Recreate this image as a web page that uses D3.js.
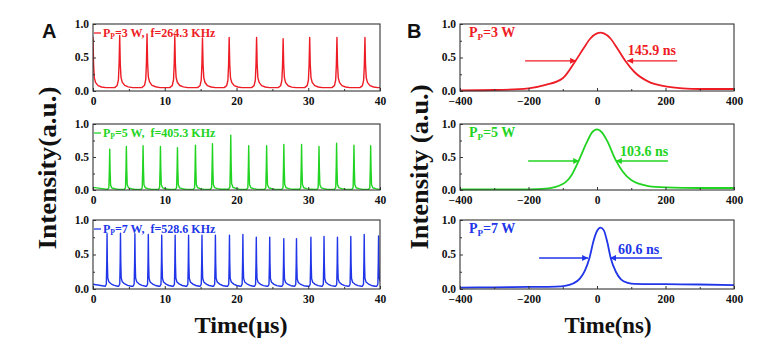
<!DOCTYPE html>
<html><head><meta charset="utf-8">
<script src="https://cdn.jsdelivr.net/npm/d3@7"></script>
<style>
body{margin:0;background:#fff;}
svg{display:block;}
</style></head>
<body>
<svg id="chart" width="773" height="350"></svg>
<script>
// ---------------- DATA ----------------
// Panel A: pulse trains (time in µs)
const redPulseTimes   = [0, 3.72, 7.53, 11.4, 15.26, 18.98, 22.8, 26.5, 30.2, 34.0, 37.9];
const redPulseHeights = [0.80, 0.83, 0.85, 0.82, 0.79, 0.80, 0.80, 0.78, 0.80, 0.80, 0.80];
const greenPulseTimes   = [2.33, 4.65, 6.98, 9.4, 11.77, 14.28, 16.65, 19.2, 21.7, 24.2, 26.6, 29.07, 31.5, 33.95, 36.37, 38.7];
const greenPulseHeights = [0.62, 0.66, 0.67, 0.66, 0.64, 0.68, 0.70, 0.83, 0.67, 0.67, 0.69, 0.69, 0.66, 0.71, 0.68, 0.67];
const bluePulseTimes   = [1.96, 3.83, 5.84, 7.71, 9.58, 11.45, 13.32, 15.19, 17.06, 19.02, 20.89, 22.76, 24.63, 26.59, 28.36, 30.37, 32.2, 34.07, 35.93, 37.8, 39.8];
const bluePulseHeights = [0.80, 0.81, 0.80, 0.79, 0.78, 0.78, 0.78, 0.78, 0.78, 0.78, 0.79, 0.75, 0.75, 0.73, 0.73, 0.75, 0.76, 0.75, 0.76, 0.79, 0.77];
// single-pulse shapes (offset in µs, level relative to pulse peak)
const redProfileOffsets = [-0.7, -0.35, -0.18, -0.08, 0, 0.08, 0.18, 0.35, 0.7, 1.2, 1.8];
const redProfileLevels  = [0.06, 0.1, 0.2, 0.5, 1, 0.5, 0.25, 0.16, 0.1, 0.075, 0.06];
const greenProfileOffsets = [-0.3, -0.12, -0.05, 0, 0.05, 0.12, 0.3, 0.7, 1.2];
const greenProfileLevels  = [0.015, 0.05, 0.5, 1, 0.5, 0.12, 0.05, 0.03, 0.015];
const blueProfileOffsets = [-0.25, -0.1, -0.04, 0, 0.04, 0.1, 0.25, 0.6, 1.0, 1.5];
const blueProfileLevels  = [0.05, 0.09, 0.5, 1, 0.5, 0.2, 0.13, 0.09, 0.065, 0.05];
const trainBaselines = [0.05, 0.01, 0.04];

// Panel B: single pulses (time in ns)
const redPulseT   = [-400, -300, -200, -150, -100, -64, -40, -20, 0, 10, 20, 40, 60, 84, 110, 150, 200, 250, 300, 400];
const redPulseI   = [0.01, 0.015, 0.04, 0.09, 0.19, 0.44, 0.63, 0.78, 0.86, 0.87, 0.86, 0.78, 0.63, 0.44, 0.28, 0.14, 0.07, 0.04, 0.03, 0.03];
const greenPulseT = [-400, -200, -150, -100, -75, -52, -30, -15, 0, 15, 30, 54, 75, 100, 150, 200, 300, 400];
const greenPulseI = [0.01, 0.01, 0.02, 0.09, 0.22, 0.46, 0.72, 0.87, 0.92, 0.87, 0.74, 0.46, 0.28, 0.15, 0.06, 0.04, 0.03, 0.03];
const bluePulseT  = [-400, -300, -200, -120, -90, -70, -50, -35, -22, -10, 0, 10, 20, 30, 40, 55, 70, 90, 110, 200, 300, 400];
const bluePulseI  = [0.02, 0.025, 0.03, 0.035, 0.05, 0.08, 0.15, 0.27, 0.45, 0.7, 0.84, 0.89, 0.85, 0.68, 0.45, 0.25, 0.14, 0.09, 0.075, 0.07, 0.065, 0.055];

// FWHM annotations: [left arrow start, left arrow tip, right arrow start, right arrow tip, level]
const fwhmArrows = [[-210, -61, 234, 88, 0.45], [-201, -52, 207, 55, 0.44], [-169, -26, 190, 38, 0.45]];
const fwhmLabels = ["145.9 ns", "103.6 ns", "60.6 ns"];
const fwhmLabelPos = [[90, 0.54], [67, 0.515], [61, 0.51]];

const powers = ["3 W", "5 W", "7 W"];
const freqs = ["264.3 KHz", "405.3 KHz", "528.6 KHz"];
const xTicksA = [0, 10, 20, 30, 40];
const xTicksB = [-400, -200, 0, 200, 400];
const yTicks = [0.0, 0.5, 1.0];

// ---------------- DRAW ----------------
const SERIF = '"Liberation Serif","Times New Roman",serif';
const SANS = '"Liberation Sans",Arial,sans-serif';
const colors = ["#ee1c25", "#22d422", "#2036e8"];
const svg = d3.select("#chart");
const rows = [[24, 91], [124, 190], [220, 289]];
const xA = d3.scaleLinear().domain([0, 40]).range([93, 380]);
const xB = d3.scaleLinear().domain([-400, 400]).range([460, 734]);

const defs = svg.append("defs");
colors.forEach((c, i) => {
  defs.append("marker").attr("id", "arr" + i).attr("viewBox", "0 0 10 10")
    .attr("refX", 10).attr("refY", 5).attr("markerWidth", 7).attr("markerHeight", 6)
    .attr("markerUnits", "userSpaceOnUse").attr("orient", "auto")
    .append("path").attr("d", "M0,0L10,5L0,10Z").attr("fill", c);
});

function buildTrain(times, heights, offs, levels, base) {
  const pts = [];
  times.forEach((t, k) => {
    offs.forEach((o, j) => pts.push([t + o, Math.max(base, heights[k] * levels[j])]));
  });
  pts.sort((a, b) => a[0] - b[0]);
  if (pts[0][0] > 0) pts.unshift([0, base + 0.03]);
  if (pts[pts.length - 1][0] < 40) pts.push([40, base]);
  return pts;
}
const trains = [
  buildTrain(redPulseTimes, redPulseHeights, redProfileOffsets, redProfileLevels, trainBaselines[0]),
  buildTrain(greenPulseTimes, greenPulseHeights, greenProfileOffsets, greenProfileLevels, trainBaselines[1]),
  buildTrain(bluePulseTimes, bluePulseHeights, blueProfileOffsets, blueProfileLevels, trainBaselines[2])
];
const singles = [
  redPulseT.map((t, i) => [t, redPulseI[i]]),
  greenPulseT.map((t, i) => [t, greenPulseI[i]]),
  bluePulseT.map((t, i) => [t, bluePulseI[i]])
];

function styleTickText(sel) {
  sel.style("font-family", SERIF).style("font-weight", "bold").attr("font-size", 11.5).attr("fill", "#111");
}

function drawFrame(g, x, y, xticks, minorStep) {
  const [x0, x1] = x.range();
  const [yb, yt] = y.range();
  const dom = x.domain();
  const minors = d3.range(dom[0], dom[1] + 1e-9, minorStep).filter(v => !xticks.includes(v));
  const mg = g.append("g").attr("transform", `translate(0,${yb})`)
    .call(d3.axisBottom(x).tickValues(minors).tickFormat("").tickSizeInner(-2).tickSizeOuter(0));
  mg.select(".domain").remove();
  mg.selectAll("line").attr("stroke", "#333");
  const ax = g.append("g").attr("transform", `translate(0,${yb})`)
    .call(d3.axisBottom(x).tickValues(xticks).tickFormat(d3.format("d")).tickSizeInner(-3).tickSizeOuter(0).tickPadding(6));
  ax.select(".domain").remove();
  ax.selectAll("line").attr("stroke", "#333");
  styleTickText(ax.selectAll("text"));
  const ay = g.append("g").attr("transform", `translate(${x0},0)`)
    .call(d3.axisLeft(y).tickValues(yTicks).tickFormat(d3.format(".1f")).tickSizeInner(-3).tickSizeOuter(0).tickPadding(4));
  ay.select(".domain").remove();
  ay.selectAll("line").attr("stroke", "#333");
  styleTickText(ay.selectAll("text"));
  ay.selectAll("text").attr("dy", "0.28em");
  const ym = g.append("g").attr("transform", `translate(${x0},0)`)
    .call(d3.axisLeft(y).tickValues([0.25, 0.75]).tickFormat("").tickSizeInner(-2).tickSizeOuter(0));
  ym.select(".domain").remove();
  ym.selectAll("line").attr("stroke", "#333");
  g.append("rect").attr("x", x0).attr("y", yt).attr("width", x1 - x0).attr("height", yb - yt)
    .attr("fill", "none").attr("stroke", "#333").attr("stroke-width", 1.1);
}

function serifText(sel) { return sel.style("font-family", SERIF).style("font-weight", "bold"); }

rows.forEach((r, i) => {
  const y = d3.scaleLinear().domain([0, 1]).range([r[1], r[0]]);
  const c = colors[i];
  // ---- Panel A ----
  const gA = svg.append("g");
  const clipId = "clipA" + i;
  defs.append("clipPath").attr("id", clipId).append("rect")
    .attr("x", xA.range()[0]).attr("y", r[0]).attr("width", xA.range()[1] - xA.range()[0]).attr("height", r[1] - r[0]);
  gA.append("path").datum(trains[i]).attr("clip-path", `url(#${clipId})`)
    .attr("d", d3.line().x(d => xA(d[0])).y(d => y(d[1])))
    .attr("fill", "none").attr("stroke", c).attr("stroke-width", 1.4).attr("stroke-linejoin", "round");
  drawFrame(gA, xA, y, xTicksA, 5);
  // legend
  gA.append("line").attr("x1", xA.range()[0] + 1).attr("x2", xA.range()[0] + 8)
    .attr("y1", r[0] + 9).attr("y2", r[0] + 9).attr("stroke", c).attr("stroke-width", 1.3);
  const lt = serifText(gA.append("text")).attr("x", xA.range()[0] + 10).attr("y", r[0] + 12.5)
    .attr("font-size", 12).attr("fill", c).style("white-space", "pre");
  lt.append("tspan").text("P");
  lt.append("tspan").attr("font-size", 7.5).attr("dy", 2).text("P");
  lt.append("tspan").attr("dy", -2).text("=" + powers[i] + ",\u00a0\u00a0f=" + freqs[i]);

  // ---- Panel B ----
  const gB = svg.append("g");
  gB.append("path").datum(singles[i])
    .attr("d", d3.line().x(d => xB(d[0])).y(d => y(d[1])).curve(d3.curveMonotoneX))
    .attr("fill", "none").attr("stroke", c).attr("stroke-width", 1.8);
  drawFrame(gB, xB, y, xTicksB, 100);
  const a = fwhmArrows[i];
  gB.append("line").attr("x1", xB(a[0])).attr("x2", xB(a[1])).attr("y1", y(a[4])).attr("y2", y(a[4]))
    .attr("stroke", c).attr("stroke-width", 1.4).attr("marker-end", `url(#arr${i})`);
  gB.append("line").attr("x1", xB(a[2])).attr("x2", xB(a[3])).attr("y1", y(a[4])).attr("y2", y(a[4]))
    .attr("stroke", c).attr("stroke-width", 1.4).attr("marker-end", `url(#arr${i})`);
  serifText(gB.append("text")).attr("x", xB(fwhmLabelPos[i][0])).attr("y", y(fwhmLabelPos[i][1]))
    .attr("font-size", 14).attr("fill", c).text(fwhmLabels[i]);
  const bt = serifText(gB.append("text")).attr("x", xB.range()[0] + 9).attr("y", r[0] + 13)
    .attr("font-size", 14).attr("fill", c);
  bt.append("tspan").text("P");
  bt.append("tspan").attr("font-size", 9).attr("dy", 3).text("P");
  bt.append("tspan").attr("dy", -3).text("=" + powers[i]);
});

// Titles
svg.append("text").attr("x", 42).attr("y", 38).style("font-family", SANS).style("font-weight", "bold")
  .attr("font-size", 20).attr("fill", "#111").text("A");
svg.append("text").attr("x", 407).attr("y", 38).style("font-family", SANS).style("font-weight", "bold")
  .attr("font-size", 20).attr("fill", "#111").text("B");
serifText(svg.append("text")).attr("transform", "translate(56,168) rotate(-90)").attr("text-anchor", "middle")
  .attr("font-size", 25).attr("fill", "#111").attr("textLength", 163).attr("lengthAdjust", "spacingAndGlyphs")
  .text("Intensity(a.u.)");
serifText(svg.append("text")).attr("transform", "translate(428,167) rotate(-90)").attr("text-anchor", "middle")
  .attr("font-size", 25).attr("fill", "#111").attr("textLength", 165).attr("lengthAdjust", "spacingAndGlyphs")
  .text("Intensity (a.u.)");
serifText(svg.append("text")).attr("x", 241).attr("y", 333).attr("text-anchor", "middle")
  .attr("font-size", 24).attr("fill", "#111").attr("textLength", 93).attr("lengthAdjust", "spacingAndGlyphs")
  .text("Time(μs)");
serifText(svg.append("text")).attr("x", 608).attr("y", 333).attr("text-anchor", "middle")
  .attr("font-size", 24).attr("fill", "#111").attr("textLength", 87).attr("lengthAdjust", "spacingAndGlyphs")
  .text("Time(ns)");
</script>
</body></html>
